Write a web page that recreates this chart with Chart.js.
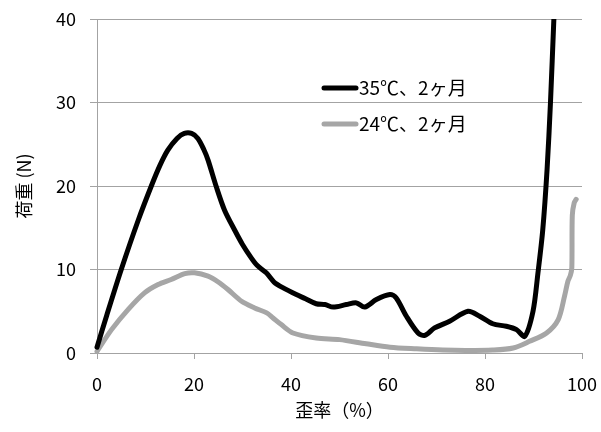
<!DOCTYPE html>
<html>
<head>
<meta charset="utf-8">
<script src="https://cdn.jsdelivr.net/npm/chart.js@4/dist/chart.umd.min.js"></script>
<style>
  html, body { margin: 0; padding: 0; background: #ffffff; }
  #wrap { width: 601px; height: 432px; position: relative; }
</style>
</head>
<body>
<div id="wrap"><canvas id="c"></canvas></div>
<script>
// ---- data ----
const seriesLabels = ['35℃、2ヶ月', '24℃、2ヶ月'];

const strain35 = [0, 2, 5, 8.5, 11.2, 13, 14.6, 16.5, 18, 19.5, 20.8, 22, 22.9, 24.6, 26.3, 28.4, 30, 31.8, 33, 34.9, 36.5, 38.4, 41.1, 43, 45.2, 47, 48.7, 51.4, 53.5, 55.2, 57.6, 60.4, 61.7, 63.8, 66.2, 67.6, 69.6, 72.7, 76.5, 78.9, 81.6, 84.4, 86.5, 88.2, 89.9, 90.9, 91.9, 92.8, 93.5, 94.2, 94.5];
const load35   = [0.7, 4.5, 10, 15.9, 20, 22.5, 24.3, 25.7, 26.3, 26.3, 25.7, 24.4, 23.1, 19.9, 17.1, 14.7, 13, 11.4, 10.5, 9.6, 8.5, 7.8, 7.0, 6.5, 5.9, 5.8, 5.5, 5.8, 6.0, 5.5, 6.4, 7.0, 6.6, 4.4, 2.4, 2.1, 3.0, 3.8, 5.0, 4.4, 3.5, 3.2, 2.8, 2.0, 5.0, 9.5, 14.7, 22, 30, 40, 44];

const strain24 = [0, 3, 6.4, 9.8, 12.6, 15.3, 18.1, 20.1, 22.9, 25, 27, 29.8, 32.5, 35, 36.3, 38, 40.4, 45.2, 50, 55.5, 60.4, 65.9, 71.3, 76, 81.6, 85.8, 89.2, 92.7, 95.1, 96.4, 97.1, 97.6, 97.9, 98.0, 98.4, 98.8];
const load24   = [0.2, 2.8, 5.2, 7.2, 8.2, 8.8, 9.5, 9.6, 9.2, 8.5, 7.6, 6.2, 5.4, 4.8, 4.2, 3.4, 2.4, 1.8, 1.6, 1.1, 0.7, 0.5, 0.35, 0.3, 0.35, 0.6, 1.4, 2.4, 4.0, 6.8, 8.6, 9.3, 10.2, 16.5, 18.0, 18.4];

const xTicks = [0, 20, 40, 60, 80, 100];
const yTicks = [0, 10, 20, 30, 40];
const xTitle = '歪率（%）';
const yTitle = '荷重 (N)';

const toXY = (xs, ys) => xs.map((x, i) => ({ x: x, y: ys[i] }));

const FONT = "'Noto Sans CJK JP', 'Noto Sans', sans-serif";
const GRID = '#a3a3a3';

// custom in-plot legend drawn from dataset labels
const inPlotLegend = {
  id: 'inPlotLegend',
  afterDatasetsDraw(chart) {
    const ctx = chart.ctx;
    const ca = chart.chartArea;
    const x0 = ca.left + 225;
    const rows = [ca.top + 69, ca.top + 105];
    ctx.save();
    chart.data.datasets.forEach((ds, i) => {
      const y = rows[i];
      ctx.strokeStyle = ds.borderColor;
      ctx.lineWidth = 5;
      ctx.lineCap = 'round';
      ctx.beginPath();
      ctx.moveTo(x0 + 2, y);
      ctx.lineTo(x0 + 34, y);
      ctx.stroke();
      ctx.fillStyle = '#000';
      ctx.font = '19px ' + FONT;
      ctx.textBaseline = 'middle';
      ctx.textAlign = 'left';
      ctx.fillText(ds.label, x0 + 37, y);
    });
    ctx.restore();
  }
};

new Chart(document.getElementById('c'), {
  type: 'line',
  data: {
    datasets: [
      { label: seriesLabels[0], data: toXY(strain35, load35), borderColor: '#000000', borderWidth: 5,
        pointRadius: 0, tension: 0.3, borderCapStyle: 'round', borderJoinStyle: 'round', fill: false,
        clip: { left: 5, right: 5, top: 0, bottom: 5 } },
      { label: seriesLabels[1], data: toXY(strain24, load24), borderColor: '#a6a6a6', borderWidth: 5,
        pointRadius: 0, tension: 0.3, borderCapStyle: 'round', borderJoinStyle: 'round', fill: false,
        clip: { left: 5, right: 5, top: 0, bottom: 5 } }
    ]
  },
  options: {
    responsive: true,
    maintainAspectRatio: false,
    animation: false,
    devicePixelRatio: 1,
    layout: { padding: { top: 19, right: 19, left: 0, bottom: 0 } },
    plugins: { legend: { display: false }, tooltip: { enabled: false } },
    scales: {
      x: {
        type: 'linear', min: 0, max: 100,
        afterBuildTicks: s => { s.ticks = xTicks.map(v => ({ value: v })); },
        afterFit: s => { s.height = 79; s.paddingLeft = 0; s.paddingRight = 0; },
        ticks: { color: '#000', font: { family: FONT, size: 18 }, padding: 14, maxRotation: 0 },
        grid: { drawOnChartArea: false, drawTicks: true, tickLength: 6, color: GRID },
        border: { display: true, color: GRID },
        title: { display: true, text: xTitle, color: '#000', font: { family: FONT, size: 18 }, padding: { top: 0, bottom: 11 } }
      },
      y: {
        type: 'linear', min: 0, max: 40,
        afterBuildTicks: s => { s.ticks = yTicks.map(v => ({ value: v })); },
        afterFit: s => { s.width = 97; s.paddingTop = 0; s.paddingBottom = 0; },
        ticks: { color: '#000', font: { family: FONT, size: 18 }, padding: 14 },
        grid: { drawOnChartArea: true, drawTicks: true, tickLength: 7, color: GRID },
        border: { display: true, color: GRID },
        title: { display: true, text: yTitle, color: '#000', font: { family: FONT, size: 18 }, padding: { top: 13, bottom: 0 } }
      }
    }
  },
  plugins: [inPlotLegend]
});
</script>
</body>
</html>
